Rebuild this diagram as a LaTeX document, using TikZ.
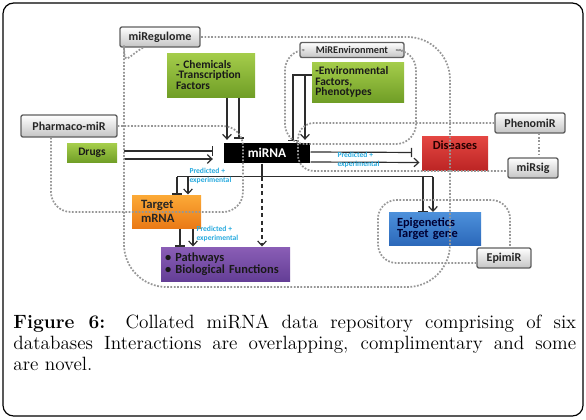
\documentclass[tikz,border=0pt]{standalone}
\usepackage{fontspec}
\newfontfamily\diafont{Carlito}
\usetikzlibrary{arrows.meta,calc}

\definecolor{dbedge}{RGB}{95,95,95}
\definecolor{dbgrey}{RGB}{196,196,196}
\definecolor{greenT}{RGB}{165,205,75}
\definecolor{greenB}{RGB}{112,158,38}
\definecolor{redT}{RGB}{228,70,66}
\definecolor{redB}{RGB}{188,36,36}
\definecolor{orangeT}{RGB}{252,170,55}
\definecolor{orangeB}{RGB}{234,122,22}
\definecolor{purpleT}{RGB}{138,94,182}
\definecolor{purpleB}{RGB}{100,62,150}
\definecolor{blueT}{RGB}{76,144,218}
\definecolor{blueB}{RGB}{44,104,186}
\definecolor{wire}{RGB}{45,45,45}
\definecolor{labcyan}{RGB}{40,170,222}
\definecolor{dotgrey}{RGB}{150,150,150}

\tikzset{every picture/.style={line width=0.75pt}}
\tikzset{
  dbbox/.style={draw=dbedge, line width=1pt, top color=white, bottom color=dbgrey, rounded corners=1.5pt, inner sep=0pt, text=black!85, font=\diafont\bfseries\fontsize{9}{10}\selectfont},
  factorbox/.style={top color=greenT, bottom color=greenB, inner xsep=6.75pt, inner ysep=0pt, align=left, text=black!90, font=\diafont\bfseries\fontsize{8.6}{7.9}\selectfont},
  hubbox/.style={fill=black, text=white, inner sep=0pt, font=\diafont\bfseries\fontsize{10}{12}\selectfont},
  effectbox/.style={inner ysep=0pt, align=left, font=\diafont\bfseries\fontsize{9.3}{8.2}\selectfont},
  act/.style={draw=wire, line width=0.9pt, -{Straight Barb[length=3.5pt,width=6.5pt]}},
  inh/.style={draw=wire, line width=0.9pt, -{Bar[width=7pt]}},
  edgelab/.style={anchor=west, inner sep=0pt, align=left, text=labcyan, font=\diafont\bfseries\fontsize{5.7}{6.4}\selectfont},
  dbscope/.style={draw=dotgrey, line width=1.3pt, dash pattern=on 1.3pt off 1.2pt},
}

\begin{document}
\begin{tikzpicture}[x=0.75pt,y=0.75pt,yscale=-1,xscale=1]

\useasboundingbox (0,0) rectangle (586,419);
\draw [line width=0.9pt, rounded corners=8pt] (3,3) rectangle (583,416);

%% ---------------- databases (grey) ----------------
\node [dbbox, minimum width=60pt, minimum height=15pt] (miReg) at (160,37) {miRegulome};
\node [dbbox, minimum width=72pt, minimum height=16.5pt] (pharma) at (69,126) {Pharmaco-miR};
\node [dbbox, minimum width=78pt, minimum height=11.25pt, font=\diafont\bfseries\fontsize{7.7}{9}\selectfont] (mirenv) at (352,50) {MiREnvironment};
\node [dbbox, minimum width=52.5pt, minimum height=15pt] (phenomir) at (530,123) {PhenomiR};
\node [dbbox, minimum width=37.5pt, minimum height=15pt] (mirsig) at (533,168) {miRsig};
\node [dbbox, minimum width=40.5pt, minimum height=15pt] (epimir) at (504,258) {EpimiR};

%% ---------------- regulators (green) ----------------
\node [factorbox, minimum width=66pt, minimum height=33pt, text width=52.5pt] (chem) at (211,75) {- Chemicals\\-Transcription\\Factors};
\node [factorbox, minimum width=69pt, minimum height=30pt, inner xsep=2.5pt, text width=64pt] (env) at (358,82) {-Environmental\\Factors,\\Phenotypes};
\node [factorbox, minimum width=37.5pt, minimum height=14.25pt, align=center] (drugs) at (92,153) {Drugs};

%% ---------------- miRNA and effects ----------------
\node [hubbox, minimum width=64.5pt, minimum height=15pt] (mirna) at (267,153) {miRNA};
\node [effectbox, top color=redT, bottom color=redB, text=black!85!red, minimum width=49.5pt, text height=6.5pt, text depth=13pt, inner ysep=3pt, align=center, anchor=north] (dis) at (455,136) {Diseases};
\node [effectbox, top color=orangeT, bottom color=orangeB, text=black!85, minimum width=51.75pt, minimum height=24.75pt, inner xsep=6.75pt, text width=38.25pt, font=\diafont\bfseries\fontsize{9.5}{10.5}\selectfont] (target) at (166.5,211.5) {Target\\mRNA};
\node [effectbox, top color=purpleT, bottom color=purpleB, text=black!90, minimum width=96.75pt, minimum height=25.5pt, inner xsep=3pt, text width=90.75pt, font=\diafont\bfseries\fontsize{9.3}{9}\selectfont] (path) at (225.5,264) {\textbullet\ Pathways\\\textbullet\ Biological Functions};
\node [effectbox, top color=blueT, bottom color=blueB, text=black!80!blue, minimum width=69pt, minimum height=24.75pt, inner xsep=6pt, text width=57pt] (epi) at (435,229) {Epigenetics\\Target gene};

%% ---------------- regulators -> miRNA ----------------
\coordinate (chA) at ($(chem.south)+(16,0)$);
\coordinate (chI) at ($(chem.south)+(28,0)$);
\draw [act, shorten >=2pt] (chA) -- (chA |- mirna.north);
\draw [inh, shorten >=3pt] (chI) -- (chI |- mirna.north);

\coordinate (enJ) at ($(env.west)+(0,-7)$);
\coordinate (enI) at ($(mirna.north)+(26,0)$);
\coordinate (enA) at ($(mirna.north)+(38,0)$);
\draw [inh, shorten >=1pt] (enJ) -| (enI);
\draw [act, shorten >=2pt] (enA |- enJ) -- (enA);

\draw [inh, shorten <=4.5pt, shorten >=8pt] ($(drugs.east)+(0,-2)$) -- ($(mirna.west)+(0,-2)$);
\draw [act, shorten <=4.5pt, shorten >=8pt] ($(drugs.east)+(0,6)$) -- ($(mirna.west)+(0,6)$);

%% ---------------- miRNA -> targets ----------------
\draw [inh, shorten >=7pt] ($(mirna.east)+(0,-1)$) -- ($(dis.west)+(0,-1)$);
\draw [act, shorten >=1.5pt] ($(mirna.east)+(0,9)$) -- ($(dis.west)+(0,9)$);

\coordinate (hub) at ($(mirna.south)+(-5,13)$);
\coordinate (tgI) at ($(target.north)+(10.5,0)$);
\coordinate (tgA) at ($(target.north)+(21.5,0)$);
\coordinate (epI) at ($(epi.north)+(-12,0)$);
\coordinate (epA) at ($(epi.north)+(-2,0)$);
\draw [draw=wire, line width=0.9pt] ($(mirna.south)+(-5,0)$) -- (hub);
\draw [draw=wire, line width=0.9pt] (tgI |- hub) -- (epA |- hub);
\draw [inh] (tgI |- hub) -- (tgI);
\draw [act] (tgA |- hub) -- (tgA);
\draw [inh] (epI |- hub) -- (epI);
\draw [act] (epA |- hub) -- (epA);
\draw [act, dash pattern={on 3pt off 2.5pt}] (hub) -- (hub |- path.north);

\coordinate (paI) at ($(target.south)+(13.5,0)$);
\coordinate (paA) at ($(target.south)+(26.5,0)$);
\draw [inh] (paI) -- (paI |- path.north);
\draw [act] (paA) -- (paA |- path.north);

\node [edgelab] (labDis) at (337,160) {Predicted +\\experimental};
\node [edgelab] (labTg) at (189,176) {Predicted +\\experimental};
\node [edgelab] (labPa) at (196,234) {Predicted +\\experimental};

%% ---------------- database scopes (dotted) ----------------
\draw [dbscope, rounded corners=32] ($(miReg.south)+(-17,0)$) .. controls (128,56) and (124,68) .. (124,88) -- (124,287) -- (450,287) -- (450,37) -- (miReg.east);
\draw [dbscope, rounded corners=15] ($(pharma.south)+(-18,0)$) -- (51,212) -- (243,212) -- (243,126) -- (pharma.east);
\draw [dbscope, rounded corners=15] (mirenv.west) -- (285,50) -- (285,144) -- (416,144) -- (416,50) -- (mirenv.east);
\draw [dbscope, rounded corners=12] (phenomir.west) -- (298,123) -- (298,171) -- ($(mirsig.west)+(0,3)$);
\coordinate (phJ) at ($(phenomir.south)+(9,0)$);
\draw [dbscope] (phJ) -- (phJ |- mirsig.north);
\coordinate (epJ) at ($(epimir.north)+(6,0)$);
\draw [dbscope, rounded corners=14] ($(epimir.west)+(0,5)$) -- (378,263) -- (378,200) -- (510,200) -- (epJ);

%% ---------------- caption ----------------
\node [anchor=north west, inner sep=0pt, text width=422pt, align=justify, font=\fontsize{14.4}{15.8}\selectfont] (caption) at (13,314) {\textbf{Figure 6:} Collated miRNA data repository comprising of six\linebreak databases Interactions are overlapping, complimentary and some\linebreak are novel.};

\end{tikzpicture}
\end{document}
